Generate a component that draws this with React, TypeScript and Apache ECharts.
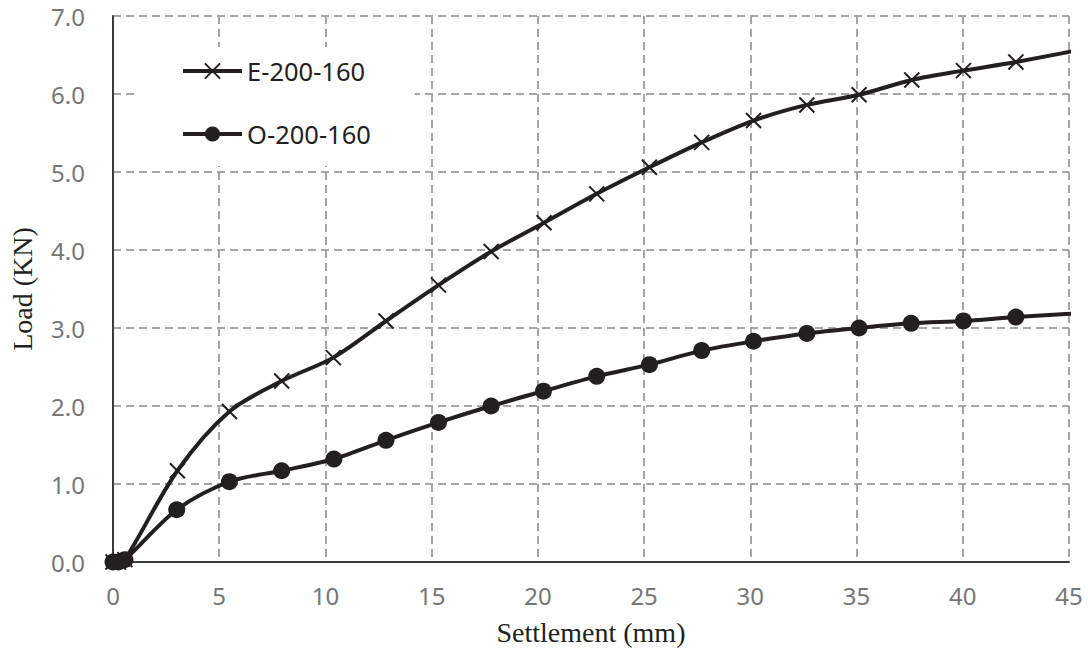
import React, { useEffect, useRef } from "react";
import * as echarts from "echarts";

const settlementE = [0, 0.25, 0.56, 3.03, 5.48, 7.94, 10.37, 12.85, 15.32, 17.8, 20.29, 22.77, 25.25, 27.71, 30.15, 32.66, 35.12, 37.6, 40.03, 42.5, 47.45];
const loadE = [0, 0, 0.03, 1.17, 1.93, 2.32, 2.62, 3.09, 3.55, 3.98, 4.35, 4.72, 5.06, 5.38, 5.66, 5.86, 5.99, 6.18, 6.3, 6.41, 6.67];

const settlementO = [0, 0.25, 0.56, 3.0, 5.48, 7.94, 10.4, 12.85, 15.32, 17.8, 20.26, 22.77, 25.25, 27.71, 30.15, 32.66, 35.12, 37.57, 40.03, 42.5, 47.45];
const loadO = [0, 0, 0.03, 0.67, 1.03, 1.17, 1.32, 1.56, 1.79, 2.0, 2.19, 2.38, 2.53, 2.71, 2.83, 2.93, 3.0, 3.06, 3.09, 3.14, 3.22];

const seriesNames = ["E-200-160", "O-200-160"];
const xTitle = "Settlement (mm)";
const yTitle = "Load (KN)";

const INK = "#231f20";

export default function App() {
  const ref = useRef<HTMLDivElement>(null);

  useEffect(() => {
    if (!ref.current) return;
    const chart = echarts.init(ref.current, null, { renderer: "svg" });
    const pairs = (xs: number[], ys: number[]) => xs.map((x, i) => [x, ys[i]]);
    chart.setOption({
      animation: false,
      backgroundColor: "#fff",
      grid: { left: 113, right: 19, top: 16, bottom: 95 },
      legend: {
        orient: "vertical",
        left: 138,
        top: 47,
        padding: [11, 44, 19, 43],
        backgroundColor: "#fff",
        itemWidth: 59,
        itemHeight: 19,
        itemGap: 37,
        lineStyle: { width: 4, color: INK },
        textStyle: { fontFamily: "Noto Sans", fontSize: 25.5, color: INK },
        data: seriesNames,
      },
      xAxis: {
        type: "value",
        min: 0,
        max: 45,
        interval: 5,
        name: xTitle,
        nameLocation: "middle",
        nameGap: 56,
        nameTextStyle: { fontFamily: "Liberation Serif", fontSize: 28, color: INK },
        axisLine: { show: true, onZero: false, lineStyle: { color: "#3a3a3a", width: 2 } },
        axisTick: { show: false },
        axisLabel: { margin: 21, fontFamily: "Noto Sans", fontSize: 24, color: "#767676" },
        splitLine: { show: true, lineStyle: { color: "#a5a5a5", width: 2, type: [8, 5] } },
      },
      yAxis: {
        type: "value",
        min: 0,
        max: 7,
        interval: 1,
        name: yTitle,
        nameLocation: "middle",
        nameGap: 77,
        nameTextStyle: { fontFamily: "Liberation Serif", fontSize: 28, color: INK },
        axisLine: { show: true, onZero: false, lineStyle: { color: "#3a3a3a", width: 2 } },
        axisTick: { show: false },
        axisLabel: {
          margin: 28,
          fontFamily: "Noto Sans",
          fontSize: 24,
          color: "#767676",
          formatter: (v: number) => v.toFixed(1),
        },
        splitLine: { show: true, lineStyle: { color: "#a5a5a5", width: 2, type: [8, 5] } },
      },
      series: [
        {
          name: seriesNames[0],
          type: "line",
          data: pairs(settlementE, loadE),
          smooth: 0.3,
          clip: true,
          symbol: "path://M0,0L10,10M10,0L0,10",
          symbolSize: 15,
          itemStyle: { color: "none", borderColor: INK, borderWidth: 2 },
          lineStyle: { color: INK, width: 4 },
        },
        {
          name: seriesNames[1],
          type: "line",
          data: pairs(settlementO, loadO),
          smooth: 0.3,
          clip: true,
          symbol: "circle",
          symbolSize: 17,
          itemStyle: { color: INK },
          lineStyle: { color: INK, width: 4 },
        },
      ],
    });
    return () => chart.dispose();
  }, []);

  return (
    <div
      ref={ref}
      style={{ position: "fixed", left: 0, top: 0, width: 1088, height: 657, background: "#fff" }}
    />
  );
}
